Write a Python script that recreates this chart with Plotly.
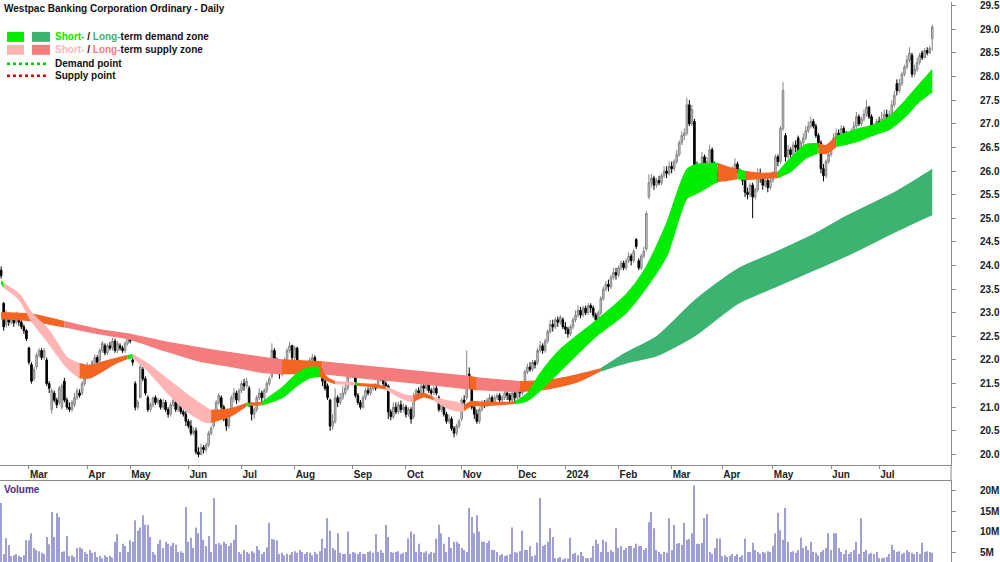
import plotly.graph_objects as go

# ---------------- data ----------------
open_ = [
    23.90, 23.20, 22.75, 22.95, 22.80, 22.90, 22.80, 22.95, 22.80, 22.70,
    22.62, 22.25, 21.90, 21.60, 21.85, 22.10, 22.20, 22.05, 22.00, 21.50,
    20.95, 21.30, 21.15, 21.10, 21.00, 21.55, 21.15, 21.00, 20.95, 21.05,
    21.20, 21.30, 21.30, 21.50, 21.65, 21.85, 21.75, 21.95, 22.05, 22.00,
    22.20, 22.30, 22.15, 22.30, 22.25, 22.40, 22.20, 22.30, 22.25, 22.20,
    22.35, 22.45, 22.00, 21.50, 21.00, 21.20, 21.80, 21.60, 21.20, 20.95,
    21.05, 21.20, 21.10, 21.15, 21.00, 21.10, 20.95, 20.85, 21.05, 21.10,
    20.95, 21.10, 20.90, 20.85, 20.70, 20.60, 20.45, 20.50, 20.05, 20.00,
    20.15, 20.10, 20.20, 20.45, 20.60, 20.90, 21.10, 21.20, 21.00, 20.75,
    20.60, 20.90, 21.20, 21.30, 21.15, 21.35, 21.50, 21.45, 21.40, 21.05,
    20.85, 20.95, 21.20, 21.30, 21.20, 21.35, 21.50, 21.65, 22.20, 22.00,
    21.85, 21.70, 21.80, 22.00, 22.20, 22.30, 22.05, 22.25, 21.95, 21.80,
    21.75, 21.85, 21.80, 22.00, 22.05, 21.90, 21.80, 21.80, 21.55, 21.45,
    21.15, 20.60, 20.70, 21.20, 21.10, 21.20, 21.30, 21.40, 21.65, 21.75,
    21.75, 21.25, 21.10, 21.00, 21.20, 21.35, 21.30, 21.40, 21.45, 21.45,
    21.70, 21.60, 21.50, 21.45, 20.90, 20.80, 21.00, 20.90, 21.05, 20.95,
    21.00, 20.85, 20.95, 20.80, 21.20, 21.35, 21.30, 21.45, 21.40, 21.50,
    21.35, 21.30, 21.40, 21.20, 20.95, 21.05, 20.85, 20.70, 20.75, 20.55,
    20.45, 20.60, 20.75, 21.15, 21.20, 21.70, 21.45, 21.00, 20.85, 20.70,
    20.95, 21.10, 21.05, 21.10, 21.20, 21.10, 21.20, 21.25, 21.15, 21.20,
    21.30, 21.25, 21.15, 21.30, 21.20, 21.35, 21.30, 21.45, 21.75, 21.85,
    21.80, 21.95, 21.95, 22.20, 22.30, 22.20, 22.40, 22.60, 22.75, 22.70,
    22.85, 22.80, 22.85, 22.70, 22.65, 22.55, 22.70, 22.85, 22.95, 23.05,
    22.95, 23.10, 23.00, 23.15, 23.10, 22.95, 22.85, 23.00, 23.30, 23.50,
    23.60, 23.55, 23.75, 23.85, 23.80, 23.95, 24.05, 23.95, 24.10, 24.20,
    24.10, 24.55, 24.10, 23.95, 24.20, 24.35, 25.45, 25.75, 25.85, 25.70,
    25.80, 25.75, 25.90, 26.00, 25.95, 26.10, 26.05, 26.20, 26.35, 26.60,
    26.75, 26.80, 27.40, 27.00, 27.05, 26.10, 25.90, 26.10, 26.30, 26.00,
    26.20, 26.45, 26.10, 26.00, 25.85, 26.00, 25.90, 25.85, 25.95, 25.90,
    26.05, 26.15, 26.00, 25.95, 25.80, 25.55, 25.50, 25.70, 25.45, 25.60,
    25.95, 25.85, 25.70, 25.80, 25.65, 25.80, 25.95, 26.30, 26.20, 26.90,
    26.75, 26.30, 26.45, 26.35, 26.55, 26.70, 26.40, 26.60, 26.70, 26.85,
    26.95, 27.05, 26.95, 26.75, 26.60, 26.05, 25.90, 26.20, 26.35, 26.60,
    26.70, 26.80, 26.75, 26.90, 26.80, 26.65, 26.70, 26.80, 26.95, 27.15,
    27.00, 27.10, 27.20, 27.35, 27.15, 26.95, 26.85, 27.05, 27.00, 27.10,
    27.20, 27.15, 27.20, 27.40, 27.85, 27.70, 27.85, 28.05, 28.20, 28.35,
    28.45, 28.05, 28.15, 28.30, 28.50, 28.40, 28.55, 28.50, 28.80,
]
high_ = [
    23.98, 23.22, 23.05, 23.00, 22.98, 22.95, 23.02, 22.98, 22.85, 22.75,
    22.65, 22.28, 21.95, 21.85, 22.15, 22.25, 22.25, 22.25, 22.05, 21.55,
    21.40, 21.35, 21.20, 21.45, 21.50, 21.62, 21.20, 21.10, 21.15, 21.30,
    21.40, 21.38, 21.55, 21.65, 21.95, 21.90, 22.00, 22.12, 22.10, 22.25,
    22.40, 22.35, 22.35, 22.38, 22.47, 22.45, 22.40, 22.35, 22.30, 22.40,
    22.57, 22.55, 22.05, 21.55, 21.15, 21.92, 21.85, 21.65, 21.25, 21.10,
    21.22, 21.25, 21.20, 21.18, 21.18, 21.15, 21.00, 21.10, 21.20, 21.15,
    21.15, 21.15, 20.95, 20.93, 20.75, 20.72, 20.57, 20.57, 20.15, 20.23,
    20.20, 20.25, 20.50, 20.60, 20.95, 21.15, 21.30, 21.25, 21.05, 20.80,
    20.90, 21.25, 21.40, 21.35, 21.40, 21.55, 21.60, 21.62, 21.45, 21.10,
    21.00, 21.25, 21.40, 21.35, 21.40, 21.55, 21.65, 22.35, 22.25, 22.05,
    21.90, 21.85, 22.05, 22.25, 22.38, 22.32, 22.30, 22.28, 22.00, 21.85,
    21.90, 21.90, 22.05, 22.12, 22.10, 21.95, 21.90, 21.82, 21.60, 21.50,
    21.18, 20.85, 21.40, 21.25, 21.30, 21.45, 21.50, 21.75, 21.84, 21.80,
    21.78, 21.30, 21.15, 21.25, 21.40, 21.42, 21.45, 21.50, 21.50, 21.84,
    21.75, 21.65, 21.55, 21.48, 20.95, 21.10, 21.10, 21.12, 21.14, 21.08,
    21.05, 21.00, 21.00, 21.30, 21.40, 21.42, 21.56, 21.50, 21.60, 21.55,
    21.40, 21.45, 21.45, 21.25, 21.14, 21.10, 20.90, 20.85, 20.80, 20.60,
    20.65, 20.75, 21.20, 21.25, 22.20, 21.84, 21.60, 21.10, 20.95, 21.00,
    21.15, 21.15, 21.20, 21.28, 21.25, 21.25, 21.30, 21.30, 21.25, 21.35,
    21.38, 21.30, 21.35, 21.35, 21.40, 21.40, 21.50, 21.80, 21.92, 21.95,
    22.00, 22.00, 22.25, 22.40, 22.35, 22.45, 22.65, 22.85, 22.85, 22.90,
    22.92, 22.95, 22.90, 22.80, 22.70, 22.75, 22.90, 23.05, 23.15, 23.12,
    23.15, 23.15, 23.20, 23.20, 23.15, 23.00, 23.05, 23.35, 23.55, 23.67,
    23.70, 23.80, 23.95, 23.95, 24.00, 24.10, 24.10, 24.15, 24.28, 24.25,
    24.35, 24.58, 24.15, 24.25, 24.40, 25.15, 25.93, 25.93, 25.90, 25.85,
    25.90, 25.95, 26.10, 26.10, 26.20, 26.20, 26.25, 26.45, 26.65, 26.84,
    26.90, 27.55, 27.50, 27.40, 27.10, 26.20, 26.15, 26.40, 26.35, 26.30,
    26.56, 26.50, 26.20, 26.05, 26.05, 26.10, 25.98, 26.00, 26.00, 26.10,
    26.27, 26.20, 26.05, 26.00, 25.85, 25.65, 25.75, 25.75, 25.65, 26.05,
    26.05, 25.90, 25.85, 25.85, 25.85, 26.00, 26.35, 26.35, 26.95, 27.88,
    26.80, 26.55, 26.50, 26.62, 26.65, 26.75, 26.65, 26.80, 26.95, 27.05,
    27.15, 27.10, 27.00, 26.80, 26.65, 26.15, 26.25, 26.45, 26.65, 26.80,
    26.90, 26.88, 26.97, 26.95, 26.85, 26.80, 26.90, 27.05, 27.25, 27.20,
    27.15, 27.30, 27.50, 27.38, 27.20, 27.00, 27.10, 27.15, 27.25, 27.30,
    27.30, 27.28, 27.50, 27.70, 27.94, 27.95, 28.10, 28.25, 28.45, 28.62,
    28.50, 28.25, 28.40, 28.50, 28.55, 28.60, 28.62, 28.65, 29.10,
]
low_ = [
    23.72, 22.62, 22.68, 22.72, 22.75, 22.70, 22.75, 22.72, 22.65, 22.55,
    22.40, 21.90, 21.50, 21.55, 21.80, 22.05, 22.00, 22.00, 21.45, 21.30,
    20.86, 21.10, 20.98, 21.05, 20.95, 21.10, 20.95, 20.90, 20.90, 21.00,
    21.15, 21.20, 21.25, 21.45, 21.60, 21.70, 21.70, 21.90, 21.90, 21.95,
    22.15, 22.10, 22.10, 22.20, 22.20, 22.15, 22.15, 22.20, 22.15, 22.15,
    22.30, 22.35, 21.88, 20.93, 20.95, 21.20, 21.55, 21.25, 20.90, 20.90,
    21.00, 21.05, 21.05, 20.95, 20.95, 20.90, 20.78, 20.80, 21.00, 20.90,
    20.90, 20.85, 20.80, 20.60, 20.55, 20.40, 20.40, 20.00, 19.94, 19.98,
    20.02, 20.05, 20.15, 20.40, 20.55, 20.85, 21.05, 20.95, 20.70, 20.50,
    20.55, 20.85, 21.10, 21.07, 21.10, 21.30, 21.35, 21.40, 21.00, 20.72,
    20.75, 20.90, 21.15, 21.10, 21.15, 21.30, 21.45, 21.60, 21.90, 21.75,
    21.60, 21.65, 21.75, 21.95, 22.15, 21.98, 22.00, 21.85, 21.72, 21.65,
    21.70, 21.72, 21.75, 21.95, 21.85, 21.75, 21.75, 21.45, 21.35, 21.15,
    20.50, 20.52, 20.65, 21.00, 21.05, 21.15, 21.25, 21.35, 21.60, 21.62,
    21.20, 21.05, 20.95, 20.97, 21.15, 21.25, 21.25, 21.35, 21.35, 21.40,
    21.55, 21.45, 21.38, 20.75, 20.72, 20.75, 20.85, 20.85, 20.88, 20.90,
    20.78, 20.80, 20.65, 20.75, 21.15, 21.20, 21.25, 21.30, 21.35, 21.30,
    21.25, 21.25, 21.25, 20.90, 20.90, 20.80, 20.65, 20.65, 20.50, 20.36,
    20.40, 20.55, 20.70, 20.95, 21.15, 21.40, 20.95, 20.75, 20.65, 20.65,
    20.90, 20.98, 21.00, 21.05, 21.05, 21.05, 21.15, 21.10, 21.10, 21.15,
    21.15, 21.07, 21.10, 21.10, 21.15, 21.20, 21.25, 21.40, 21.70, 21.75,
    21.75, 21.82, 21.90, 22.15, 22.13, 22.15, 22.35, 22.55, 22.60, 22.65,
    22.70, 22.75, 22.65, 22.55, 22.47, 22.50, 22.65, 22.80, 22.90, 22.88,
    22.90, 22.95, 22.95, 23.00, 22.90, 22.78, 22.80, 22.95, 23.25, 23.45,
    23.45, 23.50, 23.70, 23.70, 23.75, 23.90, 23.90, 23.90, 24.05, 24.00,
    24.05, 24.35, 23.90, 23.90, 24.15, 24.30, 25.40, 25.65, 25.60, 25.65,
    25.70, 25.70, 25.85, 25.85, 25.90, 25.95, 26.00, 26.15, 26.30, 26.55,
    26.65, 26.75, 26.95, 26.95, 25.50, 25.80, 25.85, 26.05, 25.95, 25.95,
    26.15, 26.05, 25.90, 25.75, 25.78, 25.82, 25.78, 25.80, 25.82, 25.85,
    25.95, 25.95, 25.85, 25.70, 25.45, 25.40, 25.45, 25.00, 25.40, 25.55,
    25.75, 25.60, 25.65, 25.55, 25.60, 25.75, 25.90, 26.10, 26.15, 26.85,
    26.20, 26.25, 26.28, 26.30, 26.40, 26.30, 26.35, 26.55, 26.65, 26.80,
    26.90, 26.90, 26.70, 26.50, 25.95, 25.78, 25.85, 26.15, 26.30, 26.55,
    26.65, 26.65, 26.70, 26.70, 26.55, 26.60, 26.65, 26.75, 26.90, 26.95,
    26.95, 27.05, 27.15, 27.10, 26.85, 26.75, 26.80, 26.95, 26.95, 27.05,
    27.05, 27.10, 27.15, 27.35, 27.60, 27.65, 27.80, 28.00, 28.15, 28.30,
    27.98, 28.00, 28.10, 28.25, 28.35, 28.38, 28.45, 28.48, 28.55,
]
close_ = [
    23.78, 22.70, 22.95, 22.80, 22.90, 22.78, 22.95, 22.80, 22.70, 22.62,
    22.45, 21.95, 21.55, 21.80, 22.10, 22.20, 22.05, 22.20, 21.50, 21.40,
    21.35, 21.15, 21.05, 21.40, 21.45, 21.15, 21.00, 20.95, 21.10, 21.20,
    21.35, 21.25, 21.50, 21.60, 21.85, 21.75, 21.95, 22.05, 21.95, 22.20,
    22.35, 22.15, 22.30, 22.25, 22.40, 22.20, 22.35, 22.25, 22.20, 22.35,
    22.50, 22.40, 21.95, 21.00, 21.10, 21.85, 21.60, 21.30, 20.95, 21.05,
    21.20, 21.10, 21.15, 21.00, 21.10, 20.95, 20.85, 21.05, 21.15, 20.95,
    21.10, 20.90, 20.85, 20.70, 20.60, 20.45, 20.50, 20.05, 20.00, 20.15,
    20.10, 20.20, 20.45, 20.55, 20.90, 21.10, 21.25, 21.00, 20.75, 20.60,
    20.85, 21.20, 21.30, 21.15, 21.35, 21.50, 21.45, 21.55, 21.05, 20.85,
    20.95, 21.20, 21.30, 21.20, 21.35, 21.50, 21.60, 22.20, 22.00, 21.85,
    21.70, 21.80, 22.00, 22.20, 22.30, 22.05, 22.25, 21.95, 21.80, 21.75,
    21.85, 21.80, 22.00, 22.05, 21.90, 21.80, 21.85, 21.55, 21.40, 21.20,
    20.60, 20.70, 21.20, 21.10, 21.20, 21.30, 21.40, 21.65, 21.75, 21.70,
    21.25, 21.10, 21.00, 21.20, 21.35, 21.30, 21.40, 21.45, 21.40, 21.70,
    21.60, 21.50, 21.45, 20.90, 20.80, 21.00, 20.90, 21.05, 20.95, 21.00,
    20.85, 20.95, 20.75, 21.20, 21.35, 21.30, 21.45, 21.40, 21.50, 21.35,
    21.30, 21.40, 21.30, 20.95, 21.05, 20.85, 20.70, 20.75, 20.55, 20.45,
    20.60, 20.70, 21.15, 21.10, 21.65, 21.45, 21.00, 20.85, 20.70, 20.95,
    21.10, 21.05, 21.15, 21.20, 21.10, 21.20, 21.25, 21.15, 21.20, 21.30,
    21.25, 21.15, 21.30, 21.20, 21.35, 21.30, 21.45, 21.75, 21.85, 21.80,
    21.95, 21.90, 22.20, 22.30, 22.20, 22.40, 22.60, 22.75, 22.70, 22.85,
    22.80, 22.90, 22.70, 22.65, 22.55, 22.70, 22.85, 22.95, 23.05, 22.95,
    23.10, 23.00, 23.15, 23.10, 22.95, 22.85, 23.00, 23.30, 23.50, 23.60,
    23.55, 23.75, 23.85, 23.80, 23.95, 24.05, 23.95, 24.10, 24.20, 24.10,
    24.30, 24.40, 23.95, 24.20, 24.30, 25.10, 25.75, 25.85, 25.70, 25.80,
    25.75, 25.90, 26.00, 25.95, 26.10, 26.05, 26.20, 26.35, 26.60, 26.75,
    26.80, 27.40, 27.00, 27.30, 26.10, 25.90, 26.10, 26.30, 26.00, 26.20,
    26.45, 26.10, 26.00, 25.85, 26.00, 25.90, 25.85, 25.95, 25.90, 26.05,
    26.15, 26.00, 25.95, 25.80, 25.55, 25.50, 25.70, 25.45, 25.60, 25.95,
    25.85, 25.70, 25.80, 25.65, 25.80, 25.95, 26.30, 26.20, 26.90, 27.70,
    26.30, 26.45, 26.35, 26.55, 26.50, 26.40, 26.60, 26.70, 26.85, 26.95,
    27.05, 26.95, 26.75, 26.60, 26.05, 25.90, 26.20, 26.35, 26.60, 26.70,
    26.80, 26.75, 26.90, 26.80, 26.65, 26.70, 26.80, 26.95, 27.15, 27.00,
    27.10, 27.20, 27.35, 27.15, 26.95, 26.85, 27.05, 27.00, 27.10, 27.20,
    27.15, 27.20, 27.40, 27.60, 27.70, 27.85, 28.05, 28.20, 28.35, 28.50,
    28.05, 28.15, 28.30, 28.45, 28.40, 28.55, 28.50, 28.60, 29.05,
]
volume_m = [
    17.0, 4.5, 8.4, 6.7, 4.0, 4.2, 4.5, 4.0, 3.8, 4.2,
    7.9, 7.9, 9.6, 6.0, 5.5, 5.2, 4.8, 4.5, 8.7, 6.9,
    14.8, 8.7, 14.5, 13.6, 5.0, 5.2, 8.9, 4.0, 4.2, 3.8,
    6.0, 6.2, 5.8, 5.0, 4.5, 5.5, 4.8, 5.0, 3.8, 4.0,
    3.5, 4.2, 3.8, 4.0, 3.6, 7.5, 9.4, 5.0, 7.0, 6.5,
    5.0, 7.9, 7.5, 12.8, 10.3, 11.0, 14.0, 11.7, 11.7, 8.7,
    5.0, 4.4, 7.0, 8.0, 6.0, 7.5, 7.0, 6.5, 7.2, 6.8,
    5.0, 5.2, 4.8, 16.0, 7.5, 8.5, 6.0, 11.0, 9.6, 14.8,
    8.0, 6.5, 8.9, 5.0, 18.2, 7.0, 7.2, 6.8, 7.5, 7.0,
    6.5, 7.2, 8.0, 11.7, 5.0, 4.5, 5.5, 5.0, 4.6, 5.2,
    4.8, 6.5, 5.5, 4.5, 5.0, 6.2, 12.2, 8.2, 8.0, 7.8,
    4.5, 4.8, 4.2, 4.6, 4.4, 5.0, 5.2, 4.8, 5.5, 5.0,
    4.5, 5.0, 4.8, 4.2, 5.0, 4.5, 5.2, 8.3, 6.0, 13.3,
    10.3, 6.0, 5.5, 9.6, 4.8, 4.5, 4.5, 10.0, 4.6, 5.0,
    4.8, 4.5, 5.0, 4.6, 4.5, 5.0, 5.2, 4.8, 9.4, 5.0,
    5.5, 4.8, 11.7, 8.7, 5.0, 4.8, 5.0, 5.2, 4.5, 4.8,
    5.0, 8.3, 10.0, 9.4, 5.0, 7.0, 5.0, 4.8, 5.2, 4.5,
    5.0, 4.8, 8.3, 11.7, 9.6, 7.0, 5.0, 8.7, 6.0, 7.5,
    7.5, 7.0, 6.0, 5.5, 5.0, 15.8, 13.6, 9.6, 14.0, 10.0,
    7.5, 7.5, 7.2, 7.8, 5.5, 5.5, 5.0, 4.2, 4.5, 4.0,
    4.2, 4.5, 11.0, 5.0, 4.8, 5.2, 10.3, 5.5, 5.5, 6.5,
    4.0, 4.2, 7.3, 18.2, 6.5, 6.8, 7.5, 10.8, 8.7, 3.5,
    3.5, 3.8, 3.2, 3.5, 3.4, 8.5, 4.5, 4.8, 4.2, 5.0,
    4.0, 3.5, 3.5, 3.6, 6.5, 8.0, 7.0, 5.0, 8.0, 7.5,
    5.0, 5.5, 5.0, 10.8, 6.0, 6.5, 5.5, 6.0, 6.5, 6.5,
    6.0, 7.0, 6.5, 6.5, 5.5, 6.0, 12.3, 14.8, 10.8, 5.5,
    5.0, 4.5, 5.0, 4.8, 13.3, 5.5, 11.7, 7.0, 7.2, 6.8,
    12.2, 8.0, 8.2, 9.6, 21.3, 7.0, 7.0, 7.2, 13.3, 14.3,
    5.0, 4.5, 6.0, 8.3, 8.3, 4.0, 4.2, 3.8, 4.0, 4.5,
    4.0, 4.5, 3.8, 4.2, 8.3, 5.0, 5.0, 7.3, 5.5, 5.0,
    4.5, 5.0, 4.8, 5.2, 5.0, 6.5, 9.6, 14.6, 10.3, 8.0,
    15.8, 7.5, 5.0, 5.2, 4.8, 5.5, 8.5, 6.0, 6.5, 5.5,
    7.5, 5.0, 4.8, 4.2, 5.0, 5.5, 6.0, 9.6, 5.5, 9.6,
    9.6, 6.0, 5.0, 4.5, 5.5, 4.5, 5.0, 5.5, 7.5, 4.5,
    13.3, 5.0, 5.5, 4.5, 4.8, 4.5, 5.0, 3.5, 3.5, 3.6,
    3.8, 4.5, 6.8, 5.5, 5.0, 5.2, 4.5, 4.8, 5.5, 5.0,
    4.8, 4.5, 5.0, 4.5, 7.3, 5.0, 5.2, 5.0, 4.8,
]

# month boundaries (trading-day index) and labels
month_idx = [11, 34, 51, 74, 95, 116, 139, 160, 182, 204, 223, 244, 265, 285, 305, 328, 347]
month_lbl = ["Mar", "Apr", "May", "Jun", "Jul", "Aug", "Sep", "Oct", "Nov", "Dec",
             "2024", "Feb", "Mar", "Apr", "May", "Jun", "Jul"]
price_ticks = [20.0, 20.5, 21.0, 21.5, 22.0, 22.5, 23.0, 23.5, 24.0, 24.5,
               25.0, 25.5, 26.0, 26.5, 27.0, 27.5, 28.0, 28.5, 29.0, 29.5]
vol_ticks_m = [5, 10, 15, 20]

# short-term zone (trading-day index, upper, lower)
st_x = [0, 1, 7, 12, 19, 26, 31, 35, 39, 45, 50, 52, 58, 65, 73, 81, 83, 91, 97, 98,
        103, 111, 117, 122, 126, 129, 132, 136, 140, 141, 147, 152, 157, 161, 163, 165,
        167, 171, 176, 180, 183, 186, 190, 196, 203, 208, 213, 221, 234, 247, 254, 263,
        271, 275, 283, 289, 291, 294, 300, 307, 312, 318, 323, 326, 330, 338, 345, 351,
        358, 362, 368]
st_hi = [23.67, 23.61, 23.40, 23.00, 22.62, 22.05, 21.92, 21.88, 21.94, 22.03, 22.09,
         22.11, 21.92, 21.62, 21.29, 20.99, 20.93, 20.97, 21.08, 21.08,
         21.10, 21.41, 21.71, 21.84, 21.84, 21.62, 21.54, 21.53, 21.52, 21.50, 21.48,
         21.43, 21.31, 21.24, 21.24, 21.27,
         21.29, 21.20, 21.14, 21.10, 21.03, 21.12, 21.10, 21.10, 21.11, 21.29, 21.71,
         22.22, 22.78, 23.38, 23.88, 24.89,
         26.03, 26.14, 26.16, 26.05, 26.03, 25.99, 25.95, 25.97, 26.27, 26.56, 26.58,
         26.54, 26.73, 26.88, 26.98, 27.15,
         27.53, 27.78, 28.14]
st_lo = [23.63, 23.54, 23.29, 22.83, 22.34, 21.84, 21.62, 21.62, 21.73, 21.92, 22.03,
         22.05, 21.77, 21.35, 20.93, 20.68, 20.68, 20.82, 21.03, 21.04,
         21.05, 21.20, 21.46, 21.62, 21.65, 21.56, 21.50, 21.49, 21.48, 21.46, 21.43,
         21.39, 21.22, 21.14, 21.12, 21.18,
         21.22, 21.16, 20.99, 20.92, 20.93, 21.03, 21.03, 21.05, 21.08, 21.14, 21.35,
         21.77, 22.45, 23.00, 23.46, 24.20,
         25.42, 25.53, 25.78, 25.82, 25.84, 25.82, 25.84, 25.86, 25.99, 26.27, 26.39,
         26.37, 26.52, 26.62, 26.77, 26.88,
         27.19, 27.43, 27.68]
st_seg = [(0, 1, "SD"), (1, 31, "SS"), (31, 50, "OR"), (50, 52, "SD"), (52, 83, "SS"),
          (83, 97, "OR"), (97, 98, "SD"), (98, 103, "OR"), (103, 126, "SD"),
          (126, 132, "OR"), (132, 140, "SS"), (140, 141, "SD"), (141, 152, "OR"),
          (152, 163, "SS"), (163, 171, "OR"), (171, 183, "SS"), (183, 203, "OR"),
          (203, 283, "SD"), (283, 291, "OR"), (291, 294, "SD"), (294, 307, "OR"),
          (307, 323, "SD"), (323, 330, "OR"), (330, 368, "SD")]

# long-term zone
lt_x = [0, 12, 19, 25, 39, 50, 65, 78, 91, 104, 111, 127, 146, 166, 185, 188, 205, 214,
        220, 228, 237, 247, 259, 274, 291, 307, 322, 334, 354, 368]
lt_hi = [23.00, 22.97, 22.89, 22.81, 22.64, 22.55, 22.38, 22.26, 22.15, 22.05, 22.00,
         21.96, 21.86, 21.75, 21.65, 21.62, 21.54, 21.56, 21.60, 21.69, 21.81, 22.15,
         22.49, 23.25, 23.92, 24.30, 24.68, 25.04, 25.57, 26.03]
lt_lo = [22.87, 22.83, 22.76, 22.70, 22.55, 22.45, 22.19, 21.98, 21.86, 21.73, 21.71,
         21.71, 21.60, 21.50, 21.39, 21.37, 21.33, 21.37, 21.43, 21.54, 21.77, 21.94,
         22.09, 22.51, 23.19, 23.57, 23.92, 24.20, 24.73, 25.08]
lt_seg = [(0, 25, "OR"), (25, 111, "LS"), (111, 127, "OR"), (127, 185, "LS"),
          (185, 188, "OR"), (188, 205, "LS"), (205, 237, "OR"), (237, 368, "LD")]

# ---------------- styling ----------------
COL = {"SD": "#00ec00", "LD": "#3cb371", "SS": "#ffb4b4", "LS": "#f47c7c", "OR": "#f26522"}
FONT = "Liberation Sans, Arial, sans-serif"
W, H, PLOT_W = 1000, 562, 952


def pxx(v):
    return v / PLOT_W


def pyy(v):
    return 1 - v / H


def band(bx, bhi, blo, segs):
    out = []
    for s, e, key in segs:
        ks = [k for k, v in enumerate(bx) if s <= v <= e]
        xs = [bx[k] for k in ks]
        up = [bhi[k] for k in ks]
        dn = [blo[k] for k in ks]
        c = COL[key]
        ln = dict(color=c, width=1.3, shape="spline", smoothing=0.7)
        out.append(go.Scatter(x=xs, y=dn, mode="lines", line=ln, hoverinfo="skip",
                              showlegend=False, xaxis="x", yaxis="y"))
        out.append(go.Scatter(x=xs, y=up, mode="lines", line=ln, fill="tonexty",
                              fillcolor=c, hoverinfo="skip", showlegend=False,
                              xaxis="x", yaxis="y"))
    return out


xi = list(range(len(close_)))
fig = go.Figure()
for t in band(lt_x, lt_hi, lt_lo, lt_seg):
    fig.add_trace(t)
for t in band(st_x, st_hi, st_lo, st_seg):
    fig.add_trace(t)

fig.add_trace(go.Candlestick(
    x=xi, open=open_, high=high_, low=low_, close=close_,
    increasing=dict(line=dict(color="#858585", width=1), fillcolor="#cccccc"),
    decreasing=dict(line=dict(color="#000000", width=1), fillcolor="#000000"),
    whiskerwidth=0, hoverinfo="skip", showlegend=False, xaxis="x", yaxis="y"))

fig.add_trace(go.Bar(
    x=xi, y=[v * 1e6 for v in volume_m], width=0.45,
    marker=dict(color="#9f9fd6", line=dict(width=0)),
    hoverinfo="skip", showlegend=False, xaxis="x2", yaxis="y2"))

xr = [-0.45, 375.4]
tickfont = dict(family=FONT, size=10, color="#222222", weight="bold")
vol_top = (H - 481) / H
price_bot = 1 - 465 / H

fig.update_layout(
    width=W, height=H, margin=dict(l=0, r=W - PLOT_W, t=0, b=0),
    paper_bgcolor="white", plot_bgcolor="white", hovermode=False,
    font=dict(family=FONT), showlegend=False, boxgap=0.1,
    xaxis=dict(domain=[0, 1], range=xr, anchor="y", tickvals=month_idx, ticktext=month_lbl,
               ticks="outside", ticklen=3, tickcolor="#8a8a8a", showline=True,
               linecolor="#8a8a8a", linewidth=1, ticklabelposition="outside right",
               tickfont=tickfont, showgrid=False, zeroline=False,
               rangeslider=dict(visible=False), fixedrange=True),
    yaxis=dict(domain=[price_bot, 1], range=[19.768, 29.578], side="right", anchor="x",
               tickvals=price_ticks, ticktext=["%.1f" % v for v in price_ticks],
               ticks="outside", ticklen=4, tickcolor="#8a8a8a", showline=True,
               linecolor="#8a8a8a", linewidth=1, tickfont=tickfont, ticklabelstandoff=22,
               ticklabeloverflow="allow",
               showgrid=False, zeroline=False, fixedrange=True),
    xaxis2=dict(domain=[0, 1], range=xr, anchor="y2", side="top", showline=True,
                linecolor="#8a8a8a", linewidth=1, showticklabels=False, ticks="",
                showgrid=False, zeroline=False, fixedrange=True),
    yaxis2=dict(domain=[0, vol_top], range=[2.56e6, 22.32e6], side="right", anchor="x2",
                tickvals=[v * 1e6 for v in vol_ticks_m],
                ticktext=["%dM" % v for v in vol_ticks_m],
                ticks="outside", ticklen=4, tickcolor="#8a8a8a", showline=True,
                linecolor="#8a8a8a", linewidth=1, tickfont=tickfont, ticklabelstandoff=22,
                showgrid=False, zeroline=False, fixedrange=True),
)

shapes = [
    dict(type="line", xref="paper", yref="paper", x0=1, x1=1, y0=vol_top, y1=price_bot,
         line=dict(color="#8a8a8a", width=1)),
    dict(type="rect", xref="paper", yref="paper", x0=pxx(7), x1=pxx(24), y0=pyy(40), y1=pyy(30),
         fillcolor=COL["SD"], line=dict(width=0)),
    dict(type="rect", xref="paper", yref="paper", x0=pxx(32), x1=pxx(50), y0=pyy(40), y1=pyy(30),
         fillcolor=COL["LD"], line=dict(width=0)),
    dict(type="rect", xref="paper", yref="paper", x0=pxx(7), x1=pxx(24), y0=pyy(53), y1=pyy(43),
         fillcolor=COL["SS"], line=dict(width=0)),
    dict(type="rect", xref="paper", yref="paper", x0=pxx(32), x1=pxx(50), y0=pyy(53), y1=pyy(43),
         fillcolor=COL["LS"], line=dict(width=0)),
    dict(type="line", xref="paper", yref="paper", x0=pxx(7), x1=pxx(48), y0=pyy(62), y1=pyy(62),
         line=dict(color="#00d000", width=2.5, dash="dot")),
    dict(type="line", xref="paper", yref="paper", x0=pxx(7), x1=pxx(48), y0=pyy(74), y1=pyy(74),
         line=dict(color="#dd0000", width=2.5, dash="dot")),
]
fig.update_layout(shapes=shapes)


def ann(x, y, text, color="#111111", size=10):
    return dict(xref="paper", yref="paper", x=pxx(x), y=pyy(y), xanchor="left", yanchor="middle",
                text=text, showarrow=False, font=dict(family=FONT, size=size, color=color))


annotations = [
    ann(2, 7, "<b>Westpac Banking Corporation Ordinary - Daily</b>"),
    ann(53, 35, "<b><span style='color:%s'>Short-</span> / <span style='color:%s'>Long-</span>term demand zone</b>"
        % (COL["SD"], COL["LD"])),
    ann(53, 48, "<b><span style='color:%s'>Short-</span> / <span style='color:%s'>Long-</span>term supply zone</b>"
        % (COL["SS"], COL["LS"])),
    ann(53, 62, "<b>Demand point</b>"),
    ann(53, 74, "<b>Supply point</b>"),
    ann(2, 489, "<b>Volume</b>", color="#4b2a87"),
]
fig.update_layout(annotations=annotations)

fig.write_html("out.html", config={"displayModeBar": False})
